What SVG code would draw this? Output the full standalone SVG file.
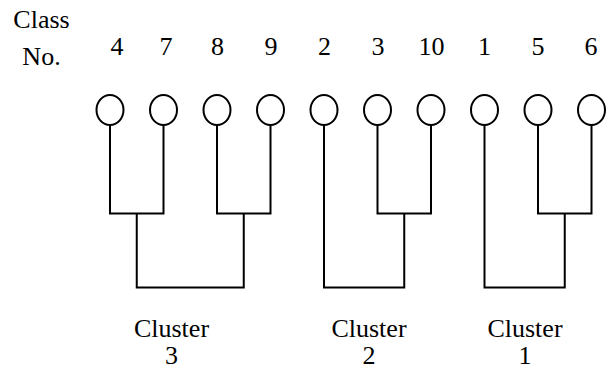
<svg xmlns="http://www.w3.org/2000/svg" xmlns:xlink="http://www.w3.org/1999/xlink" width="610" height="369" viewBox="0 0 610 369">
<defs>
<ellipse id="node" cx="0" cy="0" rx="13.5" ry="15" fill="#fff" stroke="#000" stroke-width="2"/>
</defs>
<rect width="610" height="369" fill="#fff"/>
<g id="header"><text x="41.5" y="28" font-family="Liberation Serif" font-size="26" text-anchor="middle">Class</text><text x="41.5" y="65" font-family="Liberation Serif" font-size="26" text-anchor="middle">No.</text></g>
<g id="connectors" fill="none" stroke="#000" stroke-width="2">
<path d="M110,125V213.5H163.5V125M217,125V213.5H270.5V125M136.75,213.5V287.5H243.75V213.5"/>
<path d="M377.5,125V213.5H431V125M324,125V287.5H404.25V213.5"/>
<path d="M538,125V213.5H591.5V125M484.5,125V287.5H564.75V213.5"/>
</g>
<g id="n4"><use xlink:href="#node" href="#node" x="110" y="110"/><text x="117" y="55" font-family="Liberation Serif" font-size="26" text-anchor="middle">4</text></g>
<g id="n7"><use xlink:href="#node" href="#node" x="163.5" y="110"/><text x="166" y="55" font-family="Liberation Serif" font-size="26" text-anchor="middle">7</text></g>
<g id="n8"><use xlink:href="#node" href="#node" x="217" y="110"/><text x="217.5" y="55" font-family="Liberation Serif" font-size="26" text-anchor="middle">8</text></g>
<g id="n9"><use xlink:href="#node" href="#node" x="270.5" y="110"/><text x="271" y="55" font-family="Liberation Serif" font-size="26" text-anchor="middle">9</text></g>
<g id="n2"><use xlink:href="#node" href="#node" x="324" y="110"/><text x="324.5" y="55" font-family="Liberation Serif" font-size="26" text-anchor="middle">2</text></g>
<g id="n3"><use xlink:href="#node" href="#node" x="377.5" y="110"/><text x="378" y="55" font-family="Liberation Serif" font-size="26" text-anchor="middle">3</text></g>
<g id="n10"><use xlink:href="#node" href="#node" x="431" y="110"/><text x="431.5" y="55" font-family="Liberation Serif" font-size="26" text-anchor="middle">10</text></g>
<g id="n1"><use xlink:href="#node" href="#node" x="484.5" y="110"/><text x="484.5" y="55" font-family="Liberation Serif" font-size="26" text-anchor="middle">1</text></g>
<g id="n5"><use xlink:href="#node" href="#node" x="538" y="110"/><text x="538" y="55" font-family="Liberation Serif" font-size="26" text-anchor="middle">5</text></g>
<g id="n6"><use xlink:href="#node" href="#node" x="591.5" y="110"/><text x="591" y="55" font-family="Liberation Serif" font-size="26" text-anchor="middle">6</text></g>
<g id="cluster3"><text x="171.5" y="337" font-family="Liberation Serif" font-size="26" text-anchor="middle">Cluster</text><text x="171.5" y="364" font-family="Liberation Serif" font-size="26" text-anchor="middle">3</text></g>
<g id="cluster2"><text x="369" y="337" font-family="Liberation Serif" font-size="26" text-anchor="middle">Cluster</text><text x="369" y="364" font-family="Liberation Serif" font-size="26" text-anchor="middle">2</text></g>
<g id="cluster1"><text x="525" y="337" font-family="Liberation Serif" font-size="26" text-anchor="middle">Cluster</text><text x="525" y="364" font-family="Liberation Serif" font-size="26" text-anchor="middle">1</text></g>
</svg>
